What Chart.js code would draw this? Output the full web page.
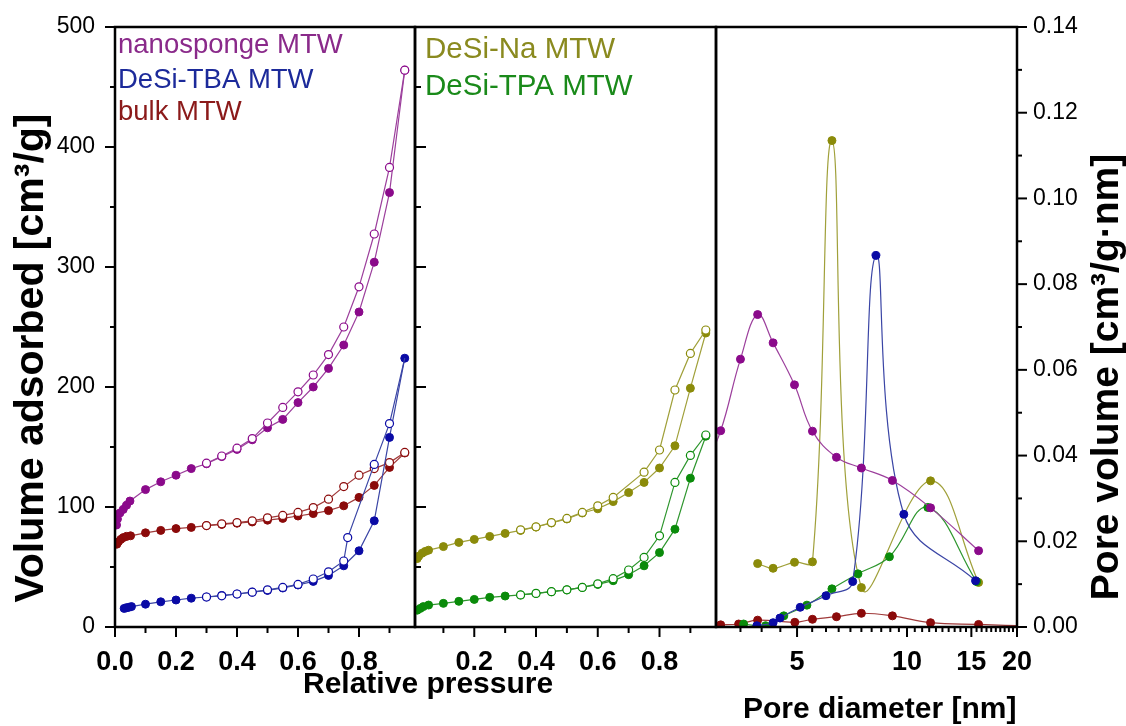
<!DOCTYPE html>
<html>
<head>
<meta charset="utf-8">
<script src="https://cdn.jsdelivr.net/npm/chart.js@4.4.1/dist/chart.umd.min.js"></script>
<style>
  html, body { margin: 0; padding: 0; background: #fff; }
  #wrap { position: relative; width: 1126px; height: 726px; }
  #wrap canvas { position: absolute; left: 0; top: 0; }
</style>
</head>
<body>
<div id="wrap">
  <canvas id="isoLeft" width="1126" height="726"></canvas>
  <canvas id="isoMid" width="1126" height="726"></canvas>
  <canvas id="psd" width="1126" height="726"></canvas>
</div>
<script>
// ---- isotherms (relative pressure / volume adsorbed, cm3/g) ----
var steps = [0.1, 0.15, 0.2, 0.25, 0.3, 0.35, 0.4, 0.45, 0.5, 0.55, 0.6, 0.65, 0.7, 0.75, 0.8, 0.85, 0.9, 0.95];

var nanoAdsP = [0.005, 0.008, 0.016, 0.027, 0.038, 0.049].concat(steps);
var nanoAdsV = [85, 90, 95, 98, 101.5, 105, 114.5, 121, 126.5, 132, 136, 142, 148, 156, 166, 173, 187, 200, 215.5, 235, 262.5, 304, 362, 464];
var nanoDesP = [0.95, 0.9, 0.85, 0.8, 0.75, 0.7, 0.65, 0.6, 0.55, 0.5, 0.45, 0.4, 0.35, 0.3];
var nanoDesV = [464, 383, 327.5, 283.5, 250, 227, 210, 196, 183, 170, 157, 149, 142.5, 136.5];

var tbaAdsP = [0.03, 0.038, 0.046, 0.054].concat(steps);
var tbaAdsV = [15.5, 16, 16.5, 17, 19, 21, 22.5, 24, 25, 26.3, 27.5, 29, 30.5, 32.5, 35, 38, 43, 51, 63.5, 88.5, 158, 224];
var tbaDesP = [0.95, 0.9, 0.85, 0.763, 0.75, 0.7, 0.65, 0.6, 0.55, 0.5, 0.45, 0.4, 0.35, 0.3];
var tbaDesV = [224, 169.5, 135.5, 74.5, 55, 46, 40, 35.5, 33, 31, 29, 27.5, 26, 25];

var bulkAdsP = [0.006, 0.011, 0.019, 0.027, 0.038, 0.051].concat(steps);
var bulkAdsV = [69, 71, 73, 74.5, 75.5, 76, 78.5, 80.5, 82, 83, 84.5, 85.5, 86.5, 87.5, 89, 90.5, 92.5, 94.5, 97, 101, 108, 118, 133, 145];
var bulkDesP = [0.95, 0.9, 0.85, 0.8, 0.75, 0.7, 0.65, 0.6, 0.55, 0.5, 0.45, 0.4, 0.35, 0.3];
var bulkDesV = [145.5, 137, 132, 126.5, 117, 106.5, 99.5, 95.5, 93, 91, 88.5, 87, 86, 84.5];

var naAdsP = [0.015, 0.02, 0.031, 0.041, 0.052].concat(steps);
var naAdsV = [57, 59, 61.5, 63, 64, 67, 70.5, 73, 75.5, 78, 80.5, 83.3, 86.7, 90, 95, 98.5, 104.5, 112, 120.5, 132.5, 151, 199, 245];
var naDesP = [0.95, 0.9, 0.85, 0.8, 0.75, 0.65, 0.6, 0.55, 0.5, 0.45, 0.4, 0.35];
var naDesV = [247.5, 228, 197.5, 147.5, 129, 108, 101, 95.5, 90.5, 87, 83.5, 81];

var tpaAdsP = [0.015, 0.025, 0.035, 0.052].concat(steps);
var tpaAdsV = [14, 15.5, 17, 18.3, 19.7, 21.4, 23, 24.7, 25.8, 26.7, 28, 29.4, 31, 33, 35.5, 38.6, 43.6, 51, 62, 81.5, 124, 159];
var tpaDesP = [0.95, 0.9, 0.85, 0.8, 0.75, 0.7, 0.65, 0.6, 0.55, 0.5, 0.45, 0.4, 0.35];
var tpaDesV = [160, 143, 120.5, 76, 58, 47.5, 40.3, 36, 33, 31, 29.4, 28, 26.7];

// ---- pore size distributions (nm / cm3/g.nm) ----
var nanoD = [2.75, 3.09, 3.5, 3.9, 4.3, 4.92, 5.51, 6.41, 7.5, 9.12, 11.6, 15.7];
var nanoPV = [0.036, 0.0458, 0.0625, 0.0729, 0.0663, 0.0565, 0.0457, 0.0396, 0.0371, 0.0342, 0.0278, 0.0178];
var naD = [3.9, 4.3, 4.92, 5.51, 6.23, 7.5, 11.6, 15.7];
var naPV = [0.0148, 0.0137, 0.0151, 0.0152, 0.1135, 0.0092, 0.0341, 0.0104];
var tbaD = [3.88, 4.3, 4.49, 5.1, 6.0, 7.1, 8.22, 9.8, 15.4];
var tbaPV = [0.0003, 0.001, 0.0021, 0.0046, 0.0073, 0.0106, 0.0867, 0.0263, 0.0108];
var tpaD = [3.57, 4.1, 4.6, 5.32, 6.23, 7.34, 8.95, 11.4, 15.5];
var tpaPV = [0.0007, 0.0003, 0.0026, 0.0051, 0.0089, 0.0124, 0.0164, 0.0279, 0.0106];
var bulkD = [2.75, 3.09, 3.46, 3.9, 4.93, 5.51, 6.41, 7.5, 9.12, 11.6, 15.7, 22];
var bulkPV = [0.0003, 0.0005, 0.0007, 0.0016, 0.0011, 0.0018, 0.0024, 0.0032, 0.0026, 0.001, 0.0006, 0.0002];

// ---- axis ticks ----
var volumeTicks = [0, 100, 200, 300, 400, 500];
var volumeMinor = [50, 150, 250, 350, 450];
var pressureTicksLeft = [0, 0.2, 0.4, 0.6, 0.8];
var pressureTicksMid = [0.2, 0.4, 0.6, 0.8];
var pressureMinor = [0.1, 0.3, 0.5, 0.7, 0.9];
var diameterTicks = [5, 10, 15, 20];
var diameterMinor = [3.5, 4, 4.5, 5.5, 6, 6.5, 7, 7.5, 8, 8.5, 9, 9.5, 10.5, 11, 11.5, 12, 12.5, 13, 13.5, 14, 14.5, 15.5, 16, 16.5, 17, 17.5, 18, 18.5, 19, 19.5];
var poreVolTicks = [0, 0.02, 0.04, 0.06, 0.08, 0.10, 0.12, 0.14];
var poreVolMinor = [0.01, 0.03, 0.05, 0.07, 0.09, 0.11, 0.13];

var names = ['nanosponge MTW', 'DeSi-TBA MTW', 'bulk MTW', 'DeSi-Na MTW', 'DeSi-TPA MTW'];

var C = {
  nano: { dot: '#8b0a8b', line: '#9c3f9c', text: '#8a2a8a' },
  tba:  { dot: '#0a0aa5', line: '#3a45a5', text: '#1c2a9a' },
  bulk: { dot: '#8b0a0a', line: '#a03a3a', text: '#8b1a1a' },
  na:   { dot: '#8b8b0a', line: '#a0a03a', text: '#8a8a1f' },
  tpa:  { dot: '#0a8b0a', line: '#2e962e', text: '#1a8a1a' }
};

var FONT = '"Liberation Sans", Arial, Helvetica, sans-serif';
Chart.defaults.font.family = FONT;
Chart.defaults.color = '#000';
Chart.defaults.animation = false;
Chart.defaults.events = [];
Chart.defaults.plugins.legend.display = false;
Chart.defaults.plugins.tooltip.enabled = false;

function pts(xs, ys) {
  return xs.map(function (x, i) { return { x: x, y: ys[i] }; });
}

function isoSet(p, v, col, open, hideFirst) {
  return {
    data: pts(p, v),
    showLine: true,
    tension: 0,
    borderColor: col.line,
    borderWidth: 1.2,
    pointRadius: hideFirst ? function (c) { return c.dataIndex === 0 ? 0 : 4; } : 4,
    pointBorderWidth: open ? 1.2 : 1,
    pointBorderColor: col.dot,
    pointBackgroundColor: open ? '#fff' : col.dot
  };
}

function psdSet(d, pv, col) {
  return {
    data: pts(d, pv),
    showLine: true,
    tension: 0.4,
    borderColor: col.line,
    borderWidth: 1.2,
    pointRadius: 4,
    pointBorderWidth: 1,
    pointBorderColor: col.dot,
    pointBackgroundColor: col.dot
  };
}

function fixedTicks(values) {
  return function (scale) {
    scale.ticks = values.map(function (v) { return { value: v }; });
  };
}

// tick marks are drawn by the plugin below; tickLength only offsets the labels
function hiddenGrid(offset) {
  return { display: false, drawTicks: true, tickLength: offset };
}
var noBorder = { display: false };

// frame around each plot area plus major/minor tick marks
var tickMarks = {
  id: 'tickMarks',
  afterDraw: function (chart, args, opts) {
    var ctx = chart.ctx, a = chart.chartArea;
    ctx.save();
    ctx.strokeStyle = '#000';
    ctx.lineWidth = 2;
    (opts.marks || []).forEach(function (m) {
      var scale = chart.scales[m.scale];
      m.values.forEach(function (v) {
        var p = scale.getPixelForValue(v);
        ctx.beginPath();
        if (m.edge === 'bottom') {
          ctx.moveTo(p, a.bottom); ctx.lineTo(p, a.bottom + m.len);
        } else if (m.edge === 'left') {
          ctx.moveTo(a.left, p); ctx.lineTo(a.left + (m.inward ? m.len : -m.len), p);
        } else {
          ctx.moveTo(a.right, p); ctx.lineTo(a.right + m.len, p);
        }
        ctx.stroke();
      });
    });
    ctx.lineWidth = 2.5;
    ctx.strokeRect(a.left, a.top, a.right - a.left, a.bottom - a.top);
    ctx.restore();
  }
};

// axis titles and sample names
var textLayer = {
  id: 'textLayer',
  afterDraw: function (chart) {
    var ctx = chart.ctx;
    ctx.save();
    ctx.textBaseline = 'alphabetic';
    ctx.textAlign = 'left';

    ctx.font = '27.5px ' + FONT;
    ctx.fillStyle = C.nano.text; ctx.fillText(names[0], 118, 53);
    ctx.fillStyle = C.tba.text;  ctx.fillText(names[1], 118, 88);
    ctx.fillStyle = C.bulk.text; ctx.fillText(names[2], 118, 120);
    ctx.font = '29.5px ' + FONT;
    ctx.fillStyle = C.na.text;   ctx.fillText(names[3], 425, 58);
    ctx.fillStyle = C.tpa.text;  ctx.fillText(names[4], 425, 95);

    ctx.fillStyle = '#000';
    ctx.font = 'bold 30px ' + FONT;
    ctx.fillText('Relative pressure', 303, 693);
    ctx.fillText('Pore diameter [nm]', 743, 718);

    ctx.textAlign = 'center';
    ctx.font = 'bold 41px ' + FONT;
    ctx.save();
    ctx.translate(43, 358);
    ctx.rotate(-Math.PI / 2);
    ctx.fillText('Volume adsorbed [cm³/g]', 0, 0);
    ctx.restore();

    ctx.font = 'bold 39px ' + FONT;
    ctx.save();
    ctx.translate(1118, 377);
    ctx.rotate(-Math.PI / 2);
    ctx.fillText('Pore volume [cm³/g·nm]', 0, 0);
    ctx.restore();
    ctx.restore();
  }
};

var boldTicks = { size: 27, weight: 'bold' };

// left panel: nanosponge, DeSi-TBA, bulk
new Chart(document.getElementById('isoLeft'), {
  type: 'scatter',
  data: {
    datasets: [
      isoSet(nanoDesP, nanoDesV, C.nano, true),
      isoSet(nanoAdsP, nanoAdsV, C.nano, false),
      isoSet(tbaDesP, tbaDesV, C.tba, true, true),
      isoSet(tbaAdsP, tbaAdsV, C.tba, false),
      isoSet(bulkDesP, bulkDesV, C.bulk, true),
      isoSet(bulkAdsP, bulkAdsV, C.bulk, false)
    ]
  },
  options: {
    responsive: false,
    layout: { autoPadding: false, padding: { left: 0, top: 27, right: 711, bottom: 0 } },
    scales: {
      x: {
        type: 'linear', min: 0, max: 0.9836,
        afterBuildTicks: fixedTicks(pressureTicksLeft),
        afterFit: function (s) { s.height = 99; },
        grid: hiddenGrid(19), border: noBorder,
        ticks: { padding: 0, autoSkip: false, maxRotation: 0, font: boldTicks,
                 callback: function (v) { return v.toFixed(1); } }
      },
      y: {
        min: 0, max: 500,
        afterBuildTicks: fixedTicks(volumeTicks),
        afterFit: function (s) { s.width = 115; },
        grid: hiddenGrid(20), border: noBorder,
        ticks: { padding: 0, font: { size: 23 }, callback: function (v) { return String(v); } }
      }
    },
    plugins: {
      tickMarks: { marks: [
        { scale: 'y', edge: 'left', values: volumeTicks, len: 10 },
        { scale: 'y', edge: 'left', values: volumeMinor, len: 5 },
        { scale: 'x', edge: 'bottom', values: pressureTicksLeft, len: 10 },
        { scale: 'x', edge: 'bottom', values: pressureMinor, len: 6 }
      ] }
    }
  },
  plugins: [tickMarks]
});

// middle panel: DeSi-Na, DeSi-TPA
new Chart(document.getElementById('isoMid'), {
  type: 'scatter',
  data: {
    datasets: [
      isoSet(naDesP, naDesV, C.na, true),
      isoSet(naAdsP, naAdsV, C.na, false),
      isoSet(tpaDesP, tpaDesV, C.tpa, true),
      isoSet(tpaAdsP, tpaAdsV, C.tpa, false)
    ]
  },
  options: {
    responsive: false,
    layout: { autoPadding: false, padding: { left: 415, top: 27, right: 410, bottom: 0 } },
    scales: {
      x: {
        type: 'linear', min: 0.008, max: 0.983,
        afterBuildTicks: fixedTicks(pressureTicksMid),
        afterFit: function (s) { s.height = 99; },
        grid: hiddenGrid(19), border: noBorder,
        ticks: { padding: 0, autoSkip: false, maxRotation: 0, font: boldTicks,
                 callback: function (v) { return v.toFixed(1); } }
      },
      y: { display: false, min: 0, max: 500 }
    },
    plugins: {
      tickMarks: { marks: [
        { scale: 'y', edge: 'left', values: [100, 200, 300, 400], len: 11, inward: true },
        { scale: 'y', edge: 'left', values: volumeMinor, len: 6, inward: true },
        { scale: 'x', edge: 'bottom', values: pressureTicksMid, len: 10 },
        { scale: 'x', edge: 'bottom', values: pressureMinor, len: 6 }
      ] }
    }
  },
  plugins: [tickMarks]
});

// right panel: pore size distributions on a log diameter axis
new Chart(document.getElementById('psd'), {
  type: 'scatter',
  data: {
    datasets: [
      psdSet(nanoD, nanoPV, C.nano),
      psdSet(tbaD, tbaPV, C.tba),
      psdSet(tpaD, tpaPV, C.tpa),
      psdSet(naD, naPV, C.na),
      psdSet(bulkD, bulkPV, C.bulk)
    ]
  },
  options: {
    responsive: false,
    layout: { autoPadding: false, padding: { left: 716, top: 27, right: 0, bottom: 0 } },
    scales: {
      x: {
        type: 'logarithmic', min: 3, max: 20,
        afterBuildTicks: fixedTicks(diameterTicks),
        afterFit: function (s) { s.height = 99; },
        grid: hiddenGrid(19), border: noBorder,
        ticks: { padding: 0, autoSkip: false, maxRotation: 0, font: boldTicks,
                 callback: function (v) { return String(v); } }
      },
      y: {
        position: 'right', min: 0, max: 0.14,
        afterBuildTicks: fixedTicks(poreVolTicks),
        afterFit: function (s) { s.width = 109; },
        grid: hiddenGrid(16), border: noBorder,
        ticks: { padding: 0, font: { size: 23 }, callback: function (v) { return v.toFixed(2); } }
      }
    },
    plugins: {
      tickMarks: { marks: [
        { scale: 'y', edge: 'right', values: poreVolTicks, len: 10 },
        { scale: 'y', edge: 'right', values: poreVolMinor, len: 5 },
        { scale: 'x', edge: 'bottom', values: diameterTicks, len: 10 },
        { scale: 'x', edge: 'bottom', values: diameterMinor, len: 5 }
      ] }
    }
  },
  plugins: [tickMarks, textLayer]
});
</script>
</body>
</html>
